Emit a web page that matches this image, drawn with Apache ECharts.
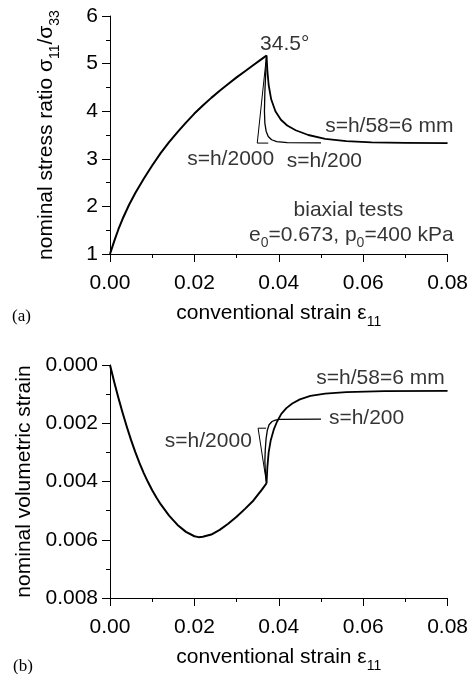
<!DOCTYPE html>
<html>
<head>
<meta charset="utf-8">
<script src="https://cdn.jsdelivr.net/npm/echarts/dist/echarts.min.js"></script>
<style>
  html, body { margin: 0; padding: 0; background: #ffffff; }
  #chart { width: 471px; height: 674px; }
</style>
</head>
<body>
<div id="chart"></div>
<script>
// ---------- (a) nominal stress ratio vs conventional strain ----------
const stressLoading = [
  [0, 1.0], [0.001, 1.27], [0.002, 1.52], [0.003, 1.74], [0.0045, 2.03],
  [0.006, 2.28], [0.008, 2.58], [0.010, 2.86], [0.012, 3.12], [0.014, 3.35],
  [0.016, 3.56], [0.018, 3.76], [0.020, 3.95], [0.022, 4.12], [0.024, 4.28],
  [0.026, 4.43], [0.028, 4.57], [0.030, 4.71], [0.032, 4.84], [0.034, 4.97],
  [0.036, 5.10], [0.0371, 5.17]
];
const stressH2000 = [[0.0371, 5.17], [0.0349, 3.33], [0.0375, 3.33]];
const stressH200 = [
  [0.0371, 5.17], [0.0369, 4.8], [0.0367, 4.4], [0.0366, 4.0], [0.0367, 3.75],
  [0.0370, 3.58], [0.0375, 3.47], [0.0383, 3.40], [0.0395, 3.36], [0.042, 3.34],
  [0.050, 3.335]
];
const stress6mm = [
  [0.0371, 5.17], [0.0373, 4.85], [0.0376, 4.55], [0.0382, 4.25], [0.0392, 4.0],
  [0.0405, 3.82], [0.042, 3.70], [0.044, 3.60], [0.047, 3.50], [0.051, 3.42],
  [0.056, 3.37], [0.062, 3.345], [0.070, 3.335], [0.080, 3.33]
];

// ---------- (b) nominal volumetric strain vs conventional strain ----------
const volLoading = [
  [0, 0], [0.001, 0.00058], [0.002, 0.00113], [0.003, 0.00165], [0.004, 0.00213],
  [0.005, 0.00258], [0.006, 0.00299], [0.007, 0.00337], [0.008, 0.00371],
  [0.009, 0.00402], [0.010, 0.00430], [0.011, 0.00455], [0.012, 0.00478],
  [0.014, 0.00517], [0.016, 0.00549], [0.018, 0.00573], [0.020, 0.00588],
  [0.021, 0.00591], [0.022, 0.00590], [0.024, 0.00582], [0.026, 0.00566],
  [0.028, 0.00545], [0.030, 0.00521], [0.032, 0.00494], [0.034, 0.00465],
  [0.036, 0.00428], [0.0371, 0.00406]
];
const volH2000 = [[0.0371, 0.00406], [0.0351, 0.00217], [0.0370, 0.00217]];
const volH200 = [
  [0.0371, 0.00406], [0.0368, 0.0036], [0.0367, 0.0033], [0.0368, 0.0029],
  [0.0370, 0.00252], [0.0373, 0.00223], [0.0377, 0.00205], [0.0384, 0.00194],
  [0.0392, 0.00189], [0.0400, 0.00187], [0.050, 0.00186]
];
const vol6mm = [
  [0.0371, 0.00406], [0.0373, 0.0035], [0.0376, 0.0030], [0.0381, 0.00258],
  [0.0388, 0.00222], [0.0396, 0.00194], [0.0406, 0.00168], [0.0418, 0.00148],
  [0.0432, 0.00132], [0.0450, 0.00118], [0.0475, 0.00106], [0.051, 0.00098],
  [0.056, 0.00093], [0.065, 0.00090], [0.080, 0.00089]
];

// axis ranges and tick steps
const strainRange = [0, 0.08, 0.02];
const stressRange = [1, 6, 1];
const volRange = [0, 0.008, 0.002];

// in-plot notes: [strain, value, text]
const notesA = [
  [0.0414, 5.41, '34.5°'],
  [0.0662, 3.69, 's=h/58=6 mm'],
  [0.0286, 3.00, 's=h/2000'],
  [0.0508, 2.95, 's=h/200'],
  [0.0565, 1.92, 'biaxial tests'],
  [0.0572, 1.40, 'e{sub|0}=0.673, p{sub|0}=400 kPa']
];
const notesB = [
  [0.0641, 0.00044, 's=h/58=6 mm'],
  [0.0608, 0.00182, 's=h/200'],
  [0.0233, 0.00262, 's=h/2000']
];

const FONT = '"Liberation Sans", Arial, Helvetica, sans-serif';
const SERIF = '"Liberation Serif", "Times New Roman", serif';
const INK = '#000000';
const FS = 21;

const subRich = {
  sub: { fontSize: 14, fontFamily: FONT, color: INK, verticalAlign: 'bottom', lineHeight: 31 }
};

function baseAxis(gridIndex, range, digits) {
  return {
    type: 'value',
    gridIndex: gridIndex,
    min: range[0], max: range[1], interval: range[2],
    nameLocation: 'middle',
    nameMoveOverlap: false,
    nameTextStyle: { fontFamily: FONT, fontSize: FS, color: INK, lineHeight: 31, rich: subRich },
    axisLine: { show: true, onZero: false, lineStyle: { color: INK, width: 1 } },
    axisTick: { show: true, inside: false, length: 8, lineStyle: { color: INK, width: 1 } },
    minorTick: { show: true, splitNumber: 2, length: 4, lineStyle: { color: INK, width: 1 } },
    axisLabel: {
      fontFamily: FONT, fontSize: FS, color: INK, margin: 12,
      formatter: v => v.toFixed(digits)
    },
    splitLine: { show: false },
    minorSplitLine: { show: false }
  };
}

function xAxis(gridIndex) {
  const ax = Object.assign(baseAxis(gridIndex, strainRange, 2), {
    name: 'conventional strain ε{sub|11}',
    nameGap: 44
  });
  ax.axisLabel.margin = 19;
  return ax;
}

function curve(xi, yi, data, width) {
  return {
    type: 'line', xAxisIndex: xi, yAxisIndex: yi, data: data,
    showSymbol: false, symbol: 'none', silent: true, animation: false,
    lineStyle: { color: INK, width: width, join: 'round' }
  };
}

function notes(xi, yi, list) {
  return {
    type: 'scatter', xAxisIndex: xi, yAxisIndex: yi, symbolSize: 0, silent: true,
    animation: false,
    data: list.map(n => ({ value: [n[0], n[1]], label: { formatter: n[2] } })),
    label: {
      show: true, position: 'inside', fontFamily: FONT, fontSize: FS, color: INK,
      lineHeight: 31, rich: subRich
    }
  };
}

const chart = echarts.init(document.getElementById('chart'), null, { renderer: 'canvas' });
chart.setOption({
  animation: false,
  backgroundColor: '#ffffff',
  title: [
    { text: '(a)', left: 7, top: 303, textStyle: { fontFamily: SERIF, fontSize: 17, fontWeight: 'normal', color: INK } },
    { text: '(b)', left: 8, top: 653, textStyle: { fontFamily: SERIF, fontSize: 17, fontWeight: 'normal', color: INK } }
  ],
  grid: [
    { left: 110, top: 16, width: 340, height: 238 },
    { left: 110, top: 365, width: 340, height: 238 }
  ],
  xAxis: [xAxis(0), xAxis(1)],
  yAxis: [
    Object.assign(baseAxis(0, stressRange, 0), {
      name: 'nominal stress ratio σ{sub|11}/σ{sub|33}',
      nameRotate: 90, nameGap: 48
    }),
    Object.assign(baseAxis(1, volRange, 3), {
      inverse: true,
      name: 'nominal volumetric strain',
      nameRotate: 90, nameGap: 70
    })
  ],
  series: [
    curve(0, 0, stressLoading, 2),
    curve(0, 0, stressH2000, 1),
    curve(0, 0, stressH200, 1.3),
    curve(0, 0, stress6mm, 1.8),
    notes(0, 0, notesA),
    curve(1, 1, volLoading, 2),
    curve(1, 1, volH2000, 1),
    curve(1, 1, volH200, 1.3),
    curve(1, 1, vol6mm, 1.8),
    notes(1, 1, notesB)
  ]
});
</script>
</body>
</html>
